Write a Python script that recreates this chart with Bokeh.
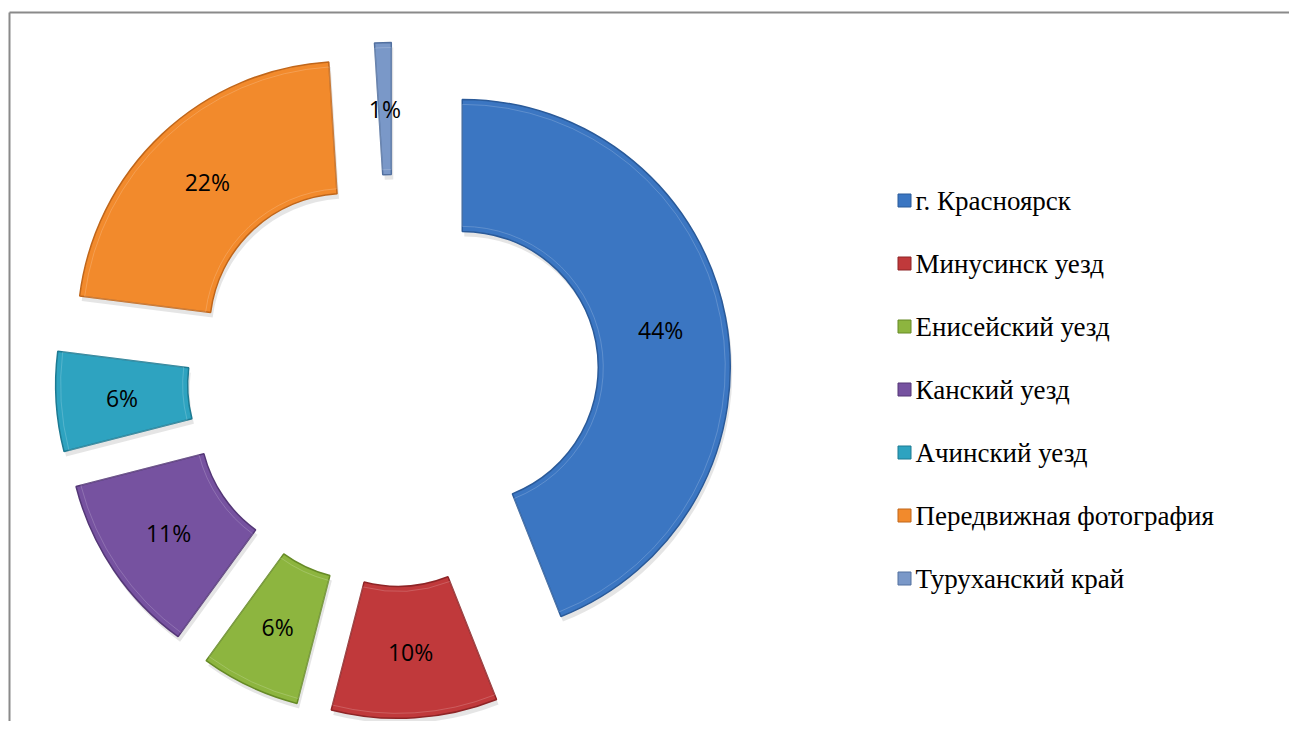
import math
from bokeh.plotting import figure
from bokeh.models import Range1d
from bokeh.core.properties import value
from bokeh.embed import file_html
from bokeh.resources import INLINE

# ---- data ----
categories = ["г. Красноярск", "Минусинск уезд", "Енисейский уезд", "Канский уезд",
              "Ачинский уезд", "Передвижная фотография", "Туруханский край"]
shares = [44, 10, 6, 11, 6, 22, 1]
pct_labels = [f"{v}%" for v in shares]

# ---- styles ----
fill_colors = ["#3b76c2", "#c0393b", "#8db53f", "#7652a0", "#2ea3c0", "#f28a2c", "#7a98c8"]
edge_colors = ["#2a5a99", "#8e2426", "#668a26", "#543777", "#1d7a92", "#c0661a", "#52709f"]

W, H = 1289, 721
p = figure(width=W, height=H,
           x_range=Range1d(0, W), y_range=Range1d(-H, 0),
           output_backend="svg", toolbar_location=None,
           x_axis_location=None, y_axis_location=None, min_border=0)
p.grid.visible = False
p.outline_line_color = None
p.background_fill_color = "white"
p.border_fill_color = "white"

# frame border (top and left visible)
p.line([9, W + 5], [-12, -12], line_color="#8a8a8a", line_width=2)
p.line([9, 9], [-12, -(H + 5)], line_color="#8a8a8a", line_width=2)

# donut geometry (screen px)
CX, CY = 393, 380
R_OUT, R_IN = 268, 136
EXPLODE = 70

total = float(sum(shares))
cum = 0.0
for i, v in enumerate(shares):
    a1 = cum / total * 360.0
    a2 = (cum + v) / total * 360.0
    cum += v
    bis = math.radians((a1 + a2) / 2.0)
    cx = CX + EXPLODE * math.sin(bis)
    cy = -CY + EXPLODE * math.cos(bis)
    start = math.radians(90.0 - a2)
    end = math.radians(90.0 - a1)
    # shadow
    p.annular_wedge(x=[cx + 2], y=[cy - 5], inner_radius=R_IN, outer_radius=R_OUT,
                    start_angle=start, end_angle=end, direction="anticlock",
                    fill_color="black", fill_alpha=0.10, line_color=None)
    p.annular_wedge(x=[cx], y=[cy], inner_radius=R_IN, outer_radius=R_OUT,
                    start_angle=start, end_angle=end, direction="anticlock",
                    fill_color=fill_colors[i], line_color=edge_colors[i], line_width=1.5)
    # inner highlight band to hint bevel
    p.annular_wedge(x=[cx], y=[cy], inner_radius=R_IN + 5, outer_radius=R_OUT - 5,
                    start_angle=start, end_angle=end, direction="anticlock",
                    fill_color=fill_colors[i], fill_alpha=0.0, line_color="white",
                    line_alpha=0.18, line_width=1)
    mid = (R_IN + R_OUT) / 2.0
    lx = cx + mid * math.sin(bis)
    ly = cy + mid * math.cos(bis)
    p.text(x=[lx], y=[ly], text=[pct_labels[i]], text_align="center",
           text_baseline="middle", text_font=value("Open Sans"),
           text_font_size="23px", text_color="black")

# legend
LEG_X, LEG_Y, LEG_DY = 904, 200, 63
for i, name in enumerate(categories):
    yy = -(LEG_Y + i * LEG_DY)
    p.scatter(x=[LEG_X], y=[yy], marker="square", size=13,
              fill_color=fill_colors[i], line_color=edge_colors[i], line_width=1)
    p.text(x=[LEG_X + 11], y=[yy], text=[name], text_align="left",
           text_baseline="middle", text_font=value("Liberation Serif"),
           text_font_size="27px", text_color="black")

open("out.html", "w").write(file_html(p, INLINE))
